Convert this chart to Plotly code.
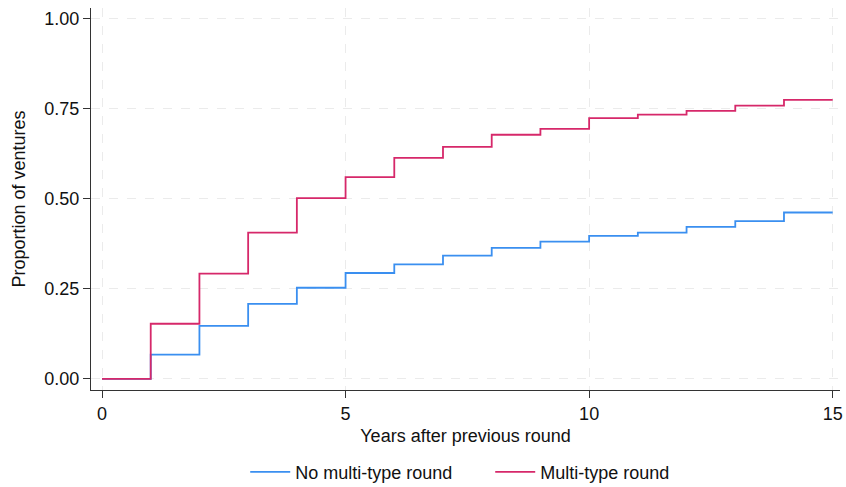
import plotly.graph_objects as go

years = list(range(0, 16))
no_multi = [0.0, 0.067, 0.147, 0.208, 0.253, 0.294, 0.318, 0.342, 0.364, 0.381,
            0.397, 0.406, 0.422, 0.438, 0.462, 0.462]
multi = [0.0, 0.153, 0.292, 0.406, 0.502, 0.560, 0.614, 0.644, 0.678, 0.694,
         0.724, 0.734, 0.744, 0.759, 0.775, 0.775]
x_ticks = [0, 5, 10, 15]
y_ticks = [0, 0.25, 0.5, 0.75, 1.0]
y_tick_labels = ["0.00", "0.25", "0.50", "0.75", "1.00"]

FONT = "Liberation Sans, Arial, Helvetica, sans-serif"

fig = go.Figure()
fig.add_trace(go.Scatter(x=years, y=no_multi, mode="lines", line_shape="hv",
                         name="No multi-type round",
                         line=dict(color="#3a8ff0", width=1.8)))
fig.add_trace(go.Scatter(x=years, y=multi, mode="lines", line_shape="hv",
                         name="Multi-type round",
                         line=dict(color="#d6286a", width=1.8)))

grid = dict(showgrid=True, gridcolor="#ebebeb", gridwidth=1, griddash="dash")

fig.update_layout(
    width=846, height=487,
    margin=dict(l=91, r=6, t=8, b=97, autoexpand=False),
    paper_bgcolor="white", plot_bgcolor="white",
    font=dict(family=FONT, size=18, color="#111"),
    showlegend=True,
    legend=dict(orientation="h", x=0.533, xanchor="center", y=-0.215, yanchor="middle",
                font=dict(size=18), itemwidth=40, tracegroupgap=0, entrywidth=190),
    xaxis=dict(range=[-0.226, 15.15], tickmode="array", tickvals=x_ticks,
               ticks="outside", ticklen=7, tickcolor="#333", showline=True,
               linecolor="#333", linewidth=1, zeroline=False, automargin=False,
               title=dict(text="Years after previous round", font=dict(size=18), standoff=6),
               **grid),
    yaxis=dict(range=[-0.031, 1.03], tickmode="array", tickvals=y_ticks,
               ticktext=y_tick_labels, ticks="outside", ticklen=7, tickcolor="#333",
               showline=True, linecolor="#333", linewidth=1, zeroline=False, automargin=False,
               title=dict(text="Proportion of ventures", font=dict(size=18), standoff=14),
               **grid),
)

fig.write_html("out.html")
